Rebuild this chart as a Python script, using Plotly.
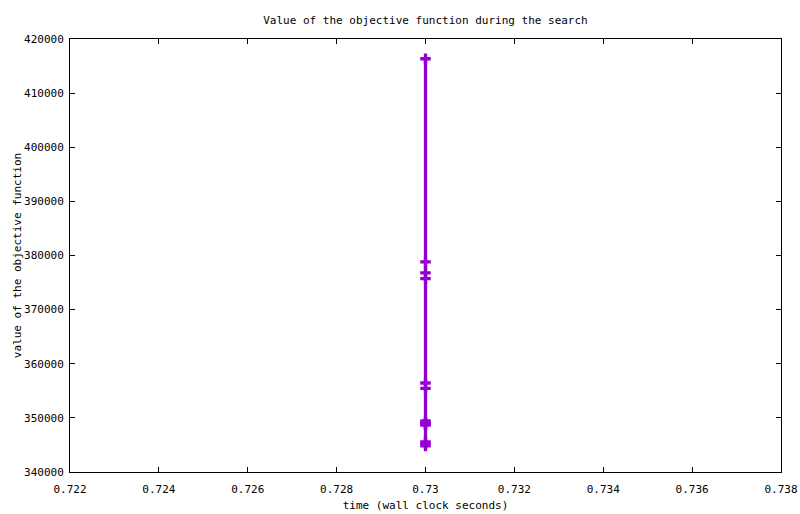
import plotly.graph_objects as go

# time (wall clock seconds) for each evaluated solution
times = [0.73, 0.73, 0.73, 0.73, 0.73, 0.73, 0.73, 0.73, 0.73, 0.73, 0.73, 0.73, 0.73]
# value of the objective function
objective = [416350, 378830, 376800, 375720, 356440, 355460,
             349450, 349150, 348900, 348650, 345580, 345200, 344820]

x_ticks = [0.722, 0.724, 0.726, 0.728, 0.73, 0.732, 0.734, 0.736, 0.738]
x_tick_labels = ["0.722", "0.724", "0.726", "0.728", "0.73", "0.732", "0.734", "0.736", "0.738"]
y_ticks = [340000, 350000, 360000, 370000, 380000, 390000, 400000, 410000, 420000]
y_tick_labels = [str(v) for v in y_ticks]

color = "#9400D3"
font = dict(family="DejaVu Sans Mono", size=11, color="black")

W, H = 800, 514

fig = go.Figure()
fig.add_trace(go.Scatter(
    x=times, y=objective, mode="lines+markers",
    line=dict(color=color, width=3.3),
    marker=dict(symbol="cross-thin", size=7.5, color=color,
                line=dict(color=color, width=3.3)),
    showlegend=False, cliponaxis=False, hoverinfo="skip",
))

axis_common = dict(
    showline=True, linecolor="black", linewidth=1, mirror="ticks",
    ticks="inside", ticklen=5, tickwidth=1, tickcolor="black",
    showgrid=False, zeroline=False, tickfont=font, automargin=False,
)

fig.update_layout(
    width=W, height=H,
    margin=dict(l=70, r=19, t=39, b=42),
    paper_bgcolor="white", plot_bgcolor="white",
    font=font,
    title=dict(text="Value of the objective function during the search",
               x=(70 + 781) / 2 / W, xanchor="center", y=1 - 20 / H, yanchor="middle",
               font=font),
    xaxis=dict(range=[0.722, 0.738], tickvals=x_ticks, ticktext=x_tick_labels,
               ticklabelstandoff=7,
               title=dict(text="time (wall clock seconds)", font=font, standoff=6),
               **axis_common),
    yaxis=dict(range=[340000, 420000], tickvals=y_ticks, ticktext=y_tick_labels,
               ticklabelstandoff=3,
               title=dict(text="value of the objective function", font=font, standoff=0),
               **axis_common),
)

fig.write_html(
    "out.html",
    config={"displayModeBar": False, "staticPlot": True},
    post_script="document.body.style.margin='0';document.body.style.overflow='hidden';"
                "document.documentElement.style.overflow='hidden';",
)
